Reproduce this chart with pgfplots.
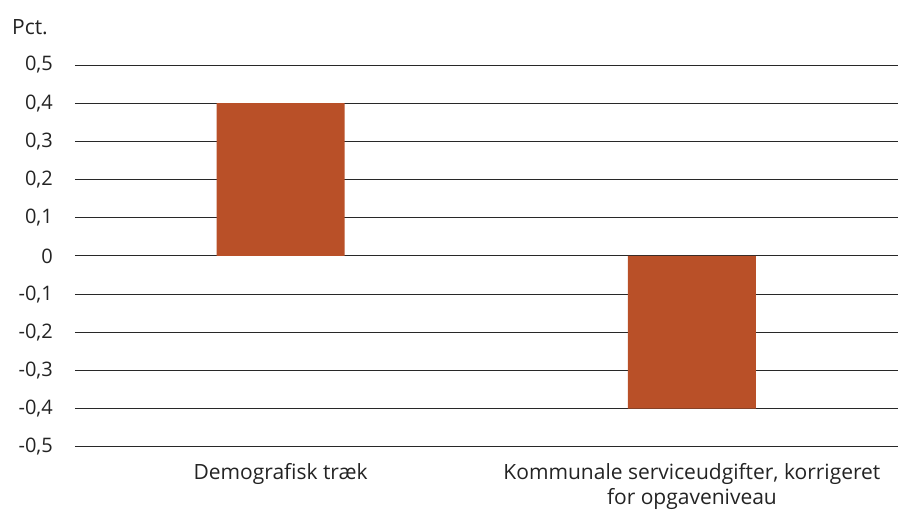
\documentclass[border=0pt]{standalone}
\usepackage{fontspec}
\setmainfont{Open Sans}
\usepackage{pgfplots}
\pgfplotsset{compat=1.18}
\definecolor{barred}{RGB}{185,80,40}
\definecolor{gridgray}{RGB}{40,40,40}
\definecolor{textgray}{RGB}{35,35,35}

\begin{document}
\fontsize{20bp}{24bp}\selectfont
\begin{tikzpicture}[every node/.style={text=textgray}]
\begin{axis}[
    scale only axis,
    width=823bp, height=382bp,
    axis line style={draw=none},
    ybar, bar width=128bp,
    xmin=0.5, xmax=2.5,
    ymin=-0.5, ymax=0.5,
    xtick={1,2},
    xticklabels={Demografisk træk, {Kommunale serviceudgifter, korrigeret\\for opgaveniveau}},
    ytick={-0.5,-0.4,-0.3,-0.2,-0.1,0,0.1,0.2,0.3,0.4,0.5},
    ymajorgrids,
    grid style={gridgray, line width=0.8bp},
    major tick length=0pt,
    tick style={draw=none},
    /pgf/number format/use comma,
    /pgf/number format/assume math mode=true,
    yticklabel style={anchor=east, inner sep=0pt, xshift=-22bp, text=textgray,
        font=\fontsize{20bp}{22bp}\selectfont},
    xticklabel style={anchor=north, align=center, inner sep=0pt, yshift=-16bp, text=textgray,
        font=\fontsize{21bp}{25bp}\selectfont},
    clip=false,
]
\addplot[fill=barred, draw=none] coordinates {(1,0.4) (2,-0.4)};
\node[anchor=west, inner sep=0pt, font=\fontsize{21bp}{24bp}\selectfont]
    at ([xshift=-63bp, yshift=38bp]rel axis cs:0,1) {Pct.};
\end{axis}
\path (-75bp,-63bp) rectangle (823bp,447bp);
\end{tikzpicture}
\end{document}
